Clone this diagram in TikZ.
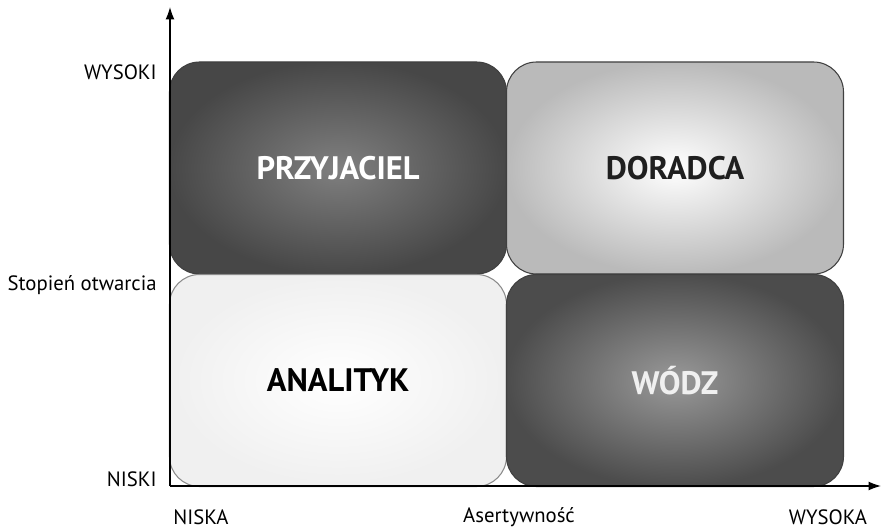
\documentclass[tikz,border=0pt]{standalone}
\usepackage{fontspec}
\setmainfont{PT Sans}
\usepackage{tikz}
\usetikzlibrary{arrows.meta,positioning,shapes}

\begin{document}
\begin{tikzpicture}[
  quad/.style={rectangle, draw=black!75, line width=0.6pt, rounded corners=0.6cm,
               minimum width=6.74cm, minimum height=4.24cm, inner sep=0pt,
               font=\fontsize{18.5}{22}\selectfont\bfseries},
  lbl/.style={font=\fontsize{11.8}{14}\selectfont, inner sep=0pt},
  axis/.style={-{Latex[length=7pt,width=5pt]}, line width=0.7pt}
]
\useasboundingbox (0,0) rectangle (17.66,10.56);

% the four quadrants
\node[quad, inner color=black!50, outer color=black!72, text=white]
  (przyjaciel) at (6.76,7.20) {PRZYJACIEL};
\node[quad, inner color=white, outer color=black!27, text=black!88]
  (doradca) at (13.50,7.20) {DORADCA};
\node[quad, draw=black!45, inner color=white, outer color=black!6, text=black]
  (analityk) at (6.76,2.95) {ANALITYK};
\node[quad, inner color=black!40, outer color=black!70, text=black!6]
  (wodz) at (13.50,2.95) {WÓDZ};

% axes
\coordinate (o) at (3.40,0.84);
\coordinate (ytip) at (3.40,10.42);
\coordinate (xtip) at (17.62,0.84);
\draw[axis] (o) -- (ytip);
\draw[axis] (o) -- (xtip);

% vertical axis labels
\node[lbl, anchor=east] (wysoki) at (3.14,9.12) {WYSOKI};
\node[lbl, anchor=east] (otwartosc) at (3.14,4.86) {Stopień otwarcia};
\node[lbl, anchor=east] (niski) at (3.14,0.98) {NISKI};

% horizontal axis labels
\node[lbl] (niska) at (4.02,0.22) {NISKA};
\node[lbl] (asertywnosc) at (10.38,0.22) {Asertywność};
\node[lbl] (wysoka) at (16.56,0.22) {WYSOKA};
\end{tikzpicture}
\end{document}
